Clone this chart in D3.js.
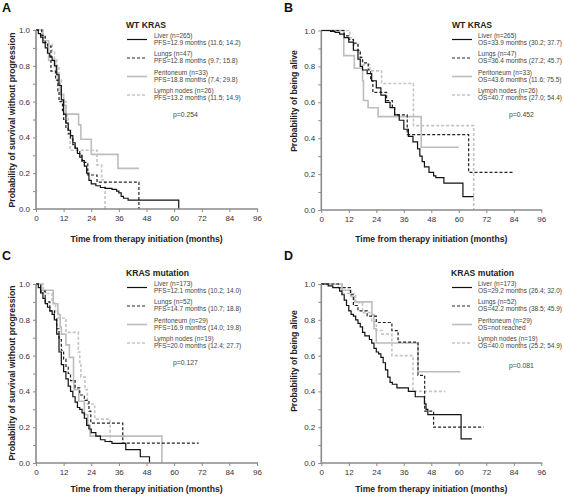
<!DOCTYPE html>
<html><head><meta charset="utf-8">
<script src="https://cdn.jsdelivr.net/npm/d3@7"></script>
<style>
body{margin:0;background:#fff;}
svg{display:block;font-family:"Liberation Sans",Arial,sans-serif;}
</style></head><body>
<svg id="chart" width="564" height="496"></svg>
<script>
// ---------- data ----------
const xTicks = [0, 12, 24, 36, 48, 60, 72, 84, 96];
const yTicks = [0, 0.2, 0.4, 0.6, 0.8, 1.0];
const seriesNames = ["Liver", "Lungs", "Peritoneum", "Lymph nodes"];

// Panel A: PFS, WT KRAS  ([month, probability]; last point = end of curve)
const A_liver = [[0,1],[1,0.98],[2,0.96],[3,0.93],[4,0.9],[5,0.87],[6,0.85],[7,0.83],[8,0.8],[9,0.75],[10,0.69],[11,0.61],[12,0.53],[13,0.48],[14,0.44],[15,0.41],[16,0.37],[17,0.34],[18,0.31],[19,0.29],[20,0.27],[21,0.24],[22,0.2],[23,0.16],[24,0.14],[26,0.13],[28,0.12],[30,0.115],[33,0.11],[35,0.1],[36,0.09],[37,0.07],[38,0.06],[40,0.05],[62,0]];
const A_lungs = [[0,1],[2.5,0.97],[4,0.93],[5,0.91],[6.5,0.77],[8.5,0.72],[9.5,0.66],[10,0.6],[11.5,0.55],[12,0.5],[13,0.45],[14,0.42],[15,0.39],[16,0.36],[17,0.34],[18,0.32],[19,0.3],[20,0.26],[22.5,0.19],[26.5,0.15],[44.7,0]];
const A_perit = [[0,1],[3,0.94],[5.5,0.83],[8.5,0.76],[9.5,0.7],[10.5,0.64],[12,0.58],[13,0.53],[18.5,0.47],[19.5,0.39],[24,0.305],[35.6,0.227],[44.7,0.227]];
const A_lymph = [[0,1],[3,0.96],[4,0.92],[7,0.88],[8,0.84],[9,0.8],[10,0.72],[11,0.64],[12,0.6],[13,0.52],[14,0.44],[14.8,0.328],[26.5,0.245],[28.5,0.163],[30,0]];

// Panel B: OS, WT KRAS
const B_liver = [[0,1],[4,0.995],[6,0.99],[8,0.98],[10,0.96],[12,0.935],[14,0.89],[16,0.84],[17,0.8],[18,0.78],[20,0.76],[22,0.72],[24,0.68],[26,0.64],[28,0.6],[30,0.57],[32,0.53],[34,0.5],[36,0.45],[38,0.41],[40,0.38],[42,0.34],[43,0.3],[44,0.27],[45,0.24],[47,0.21],[49,0.19],[50,0.18],[53.5,0.15],[61.8,0.075],[66.5,0.075]];
const B_lungs = [[0,1],[10,0.97],[12,0.95],[14,0.93],[16,0.89],[17,0.85],[18,0.82],[20.5,0.78],[21.5,0.72],[22.5,0.655],[28.5,0.61],[31,0.57],[32,0.53],[37.5,0.42],[64.3,0.21],[83.5,0.21]];
const B_perit = [[0,1],[9.8,0.86],[14.4,0.79],[18,0.72],[18.4,0.61],[20.4,0.57],[24.8,0.52],[43.6,0.35],[60,0.35]];
const B_lymph = [[0,1],[12.5,0.96],[14,0.92],[16,0.88],[17,0.85],[18,0.81],[21.2,0.775],[26.3,0.705],[40.2,0.47],[66.5,0]];

// Panel C: PFS, KRAS mutation
const C_liver = [[0,1],[1,0.98],[2,0.95],[3,0.92],[4,0.89],[5,0.87],[6,0.85],[7,0.83],[8,0.8],[9,0.72],[10,0.62],[11,0.55],[12,0.51],[13,0.47],[14,0.43],[15,0.4],[16,0.37],[17,0.34],[18,0.31],[19,0.3],[20,0.28],[21,0.25],[22,0.21],[23,0.19],[24,0.17],[26,0.15],[28,0.13],[30,0.12],[33,0.11],[39,0.075],[45.3,0.035],[49.3,0]];
const C_lungs = [[0,1],[2,0.96],[4,0.9],[6,0.85],[8,0.81],[9,0.75],[10,0.69],[11,0.63],[12,0.58],[13,0.54],[14,0.5],[15,0.46],[17,0.42],[19,0.38],[21,0.35],[23,0.29],[23.8,0.223],[37.7,0.111],[70.7,0.111]];
const C_perit = [[0,1],[2.5,0.965],[7.5,0.89],[9.5,0.83],[10.5,0.76],[11,0.72],[13,0.66],[14.5,0.59],[16.3,0.45],[16.5,0.41],[18.6,0.345],[21,0.27],[22.5,0.21],[23.5,0.15],[54.7,0]];
const C_lymph = [[0,1],[3.2,0.947],[7,0.895],[8.5,0.842],[9.7,0.81],[13,0.73],[18.4,0.62],[19,0.55],[19.5,0.48],[21.3,0.41],[22.3,0.33],[25.5,0.245],[32.2,0.11],[32.3,0.11]];

// Panel D: OS, KRAS mutation
const D_liver = [[0,1],[3,0.99],[5,0.98],[8,0.96],[9,0.94],[10,0.91],[11,0.88],[12,0.85],[13,0.83],[14,0.82],[15,0.8],[16,0.78],[17,0.76],[18,0.73],[19,0.71],[21,0.69],[22,0.67],[23,0.64],[24,0.62],[25,0.61],[26,0.59],[27,0.56],[28,0.52],[29,0.48],[30,0.45],[31,0.44],[33,0.42],[38,0.4],[41,0.37],[45,0.33],[45.7,0.3],[46.5,0.27],[61,0.135],[65.7,0.135]];
const D_lungs = [[0,1],[7.5,0.98],[12.7,0.94],[14,0.88],[16,0.85],[20,0.82],[24,0.785],[30.8,0.74],[33.5,0.675],[42.2,0.49],[45.1,0.29],[49,0.2],[70.8,0.2]];
const D_perit = [[0,1],[9,0.965],[13,0.93],[14.5,0.9],[22.1,0.83],[23,0.75],[24,0.67],[42.2,0.51],[60.7,0.51]];
const D_lymph = [[0,1],[9,0.947],[15,0.895],[18,0.84],[22,0.79],[24,0.74],[26.5,0.72],[30.8,0.6],[40,0.4],[54.1,0.4]];

const legendTitles = ["WT KRAS", "WT KRAS", "KRAS mutation", "KRAS mutation"];
const A_labels = ["Liver (n=265)","PFS=12.9 months (11.6; 14.2)","Lungs (n=47)","PFS=12.8 months (9.7; 15.8)","Peritoneum (n=33)","PFS=18.8 months (7.4; 29.8)","Lymph nodes (n=26)","PFS=13.2 months (11.5; 14.9)"];
const B_labels = ["Liver (n=265)","OS=33.9 months (30.2; 37.7)","Lungs (n=47)","OS=36.4 months (27.2; 45.7)","Peritoneum (n=33)","OS=43.6 months (11.6; 75.5)","Lymph nodes (n=26)","OS=40.7 months (27.0; 54.4)"];
const C_labels = ["Liver (n=173)","PFS=12.1 months (10.2; 14.0)","Lungs (n=52)","PFS=14.7 months (10.7; 18.8)","Peritoneum (n=29)","PFS=16.9 months (14.0; 19.8)","Lymph nodes (n=19)","PFS=20.0 months (12.4; 27.7)"];
const D_labels = ["Liver (n=173)","OS=29.2 months (26.4; 32.0)","Lungs (n=52)","OS=42.2 months (38.5; 45.9)","Peritoneum (n=29)","OS=not reached","Lymph nodes (n=19)","OS=40.0 months (25.2; 54.9)"];
const pValues = ["p=0.254", "p=0.452", "p=0.127", "p=0.081"];
const panelLetters = ["A", "B", "C", "D"];
const yTitles = ["Probability of survival without progression","Probability of being alive","Probability of survival without progression","Probability of being alive"];
const xTitle = "Time from therapy initiation (months)";

// ---------- layout ----------
const svg = d3.select("#chart");
const layout = [
  {ox:0,   oy:0,   x0:36,    x1:257,   yTop:30,  yBot:209, xTitleY:242, yTitleC:120, legX:126, lineX0:127, lineX1:147, textX:154, pX:173},
  {ox:282, oy:0,   x0:321.3, x1:541.3, yTop:30.5,yBot:210, xTitleY:242, yTitleC:101, legX:452, lineX0:452, lineX1:472, textX:478, pX:509},
  {ox:0,   oy:248, x0:36,    x1:257,   yTop:284, yBot:463, xTitleY:491.5, yTitleC:373, legX:126, lineX0:127, lineX1:147, textX:154, pX:173},
  {ox:282, oy:248, x0:321.3, x1:541.3, yTop:284, yBot:463, xTitleY:491.5, yTitleC:361, legX:451, lineX0:452, lineX1:472, textX:478, pX:509}
];
const data = [[A_liver,A_lungs,A_perit,A_lymph],[B_liver,B_lungs,B_perit,B_lymph],[C_liver,C_lungs,C_perit,C_lymph],[D_liver,D_lungs,D_perit,D_lymph]];
const labels = [A_labels,B_labels,C_labels,D_labels];
const styles = [
  {stroke:"#111", width:1.2, dash:null},
  {stroke:"#222", width:1.2, dash:"3,2"},
  {stroke:"#bdbdbd", width:1.6, dash:null},
  {stroke:"#c4c4c4", width:1.6, dash:"3,2"}
];
const axisColor = "#8a8a8a";
const textColor = "#333";
const legendColor = "#444";

layout.forEach((L, i) => {
  const g = svg.append("g");
  const x = d3.scaleLinear().domain([0, 96]).range([L.x0, L.x1]);
  const y = d3.scaleLinear().domain([0, 1]).range([L.yBot, L.yTop]);

  // curves (draw gray first, black on top)
  const line = d3.line().x(d => x(d[0])).y(d => y(d[1])).curve(d3.curveStepAfter);
  [3, 2, 1, 0].forEach(k => {
    const s = styles[k];
    g.append("path").datum(data[i][k]).attr("d", line)
      .attr("fill", "none").attr("stroke", s.stroke).attr("stroke-width", s.width)
      .attr("stroke-dasharray", s.dash);
  });

  // axes
  const xAxis = d3.axisBottom(x).tickValues(xTicks).tickSize(3).tickPadding(3).tickFormat(d3.format("d"));
  const gx = g.append("g").attr("transform", `translate(0,${L.yBot})`).call(xAxis);
  const yMinor = d3.range(0, 1.001, 0.1);
  const yAxis = d3.axisLeft(y).tickValues(yMinor).tickSize(3).tickPadding(3)
    .tickFormat(d => (Math.round(d * 10) % 2 === 0) ? d3.format(".1f")(d) : "");
  const gy = g.append("g").attr("transform", `translate(${L.x0},0)`).call(yAxis);
  [gx, gy].forEach(a => {
    a.select(".domain").attr("stroke", axisColor).attr("stroke-width", 1.6);
    a.selectAll(".tick line").attr("stroke", axisColor).attr("stroke-width", 1);
    a.selectAll(".tick text").attr("fill", textColor).attr("font-size", 8)
      .attr("font-family", "Liberation Sans, Arial, sans-serif");
  });
  gx.select(".domain").attr("d", `M${L.x0},0H${L.x1 + 1}`);
  gy.select(".domain").attr("d", `M0,${L.yBot}V${L.yTop}`);

  // titles
  g.append("text").attr("x", (L.x0 + L.x1) / 2).attr("y", L.xTitleY)
    .attr("text-anchor", "middle").attr("font-size", 8.6).attr("font-weight", "bold")
    .attr("fill", "#222").text(xTitle);
  g.append("text").attr("transform", `translate(${L.ox + 15},${L.yTitleC}) rotate(-90)`)
    .attr("text-anchor", "middle").attr("font-size", 8.6).attr("font-weight", "bold")
    .attr("fill", "#222").text(yTitles[i]);
  g.append("text").attr("x", L.ox + 2).attr("y", L.oy + 12)
    .attr("font-size", 12.5).attr("font-weight", "bold").attr("fill", "#111").text(panelLetters[i]);

  // legend
  const ly = L.oy;
  g.append("text").attr("x", L.legX).attr("y", ly + 28)
    .attr("font-size", 8.6).attr("font-weight", "bold").attr("fill", "#222").text(legendTitles[i]);
  for (let k = 0; k < 4; k++) {
    const base = ly + 38.5 + k * 18.5;
    const s = styles[k];
    g.append("line").attr("x1", L.lineX0).attr("x2", L.lineX1).attr("y1", base + 1).attr("y2", base + 1)
      .attr("stroke", s.stroke).attr("stroke-width", s.width).attr("stroke-dasharray", s.dash);
    g.append("text").attr("x", L.textX).attr("y", base - 0.7).attr("font-size", 6.5)
      .attr("fill", legendColor).text(labels[i][2 * k]);
    g.append("text").attr("x", L.textX).attr("y", base + 6.3).attr("font-size", 6.5)
      .attr("fill", legendColor).text(labels[i][2 * k + 1]);
  }
  g.append("text").attr("x", L.pX).attr("y", ly + (i === 3 ? 120 : 116.5)).attr("font-size", 6.8)
    .attr("fill", legendColor).text(pValues[i]);
});
</script>
</body></html>
